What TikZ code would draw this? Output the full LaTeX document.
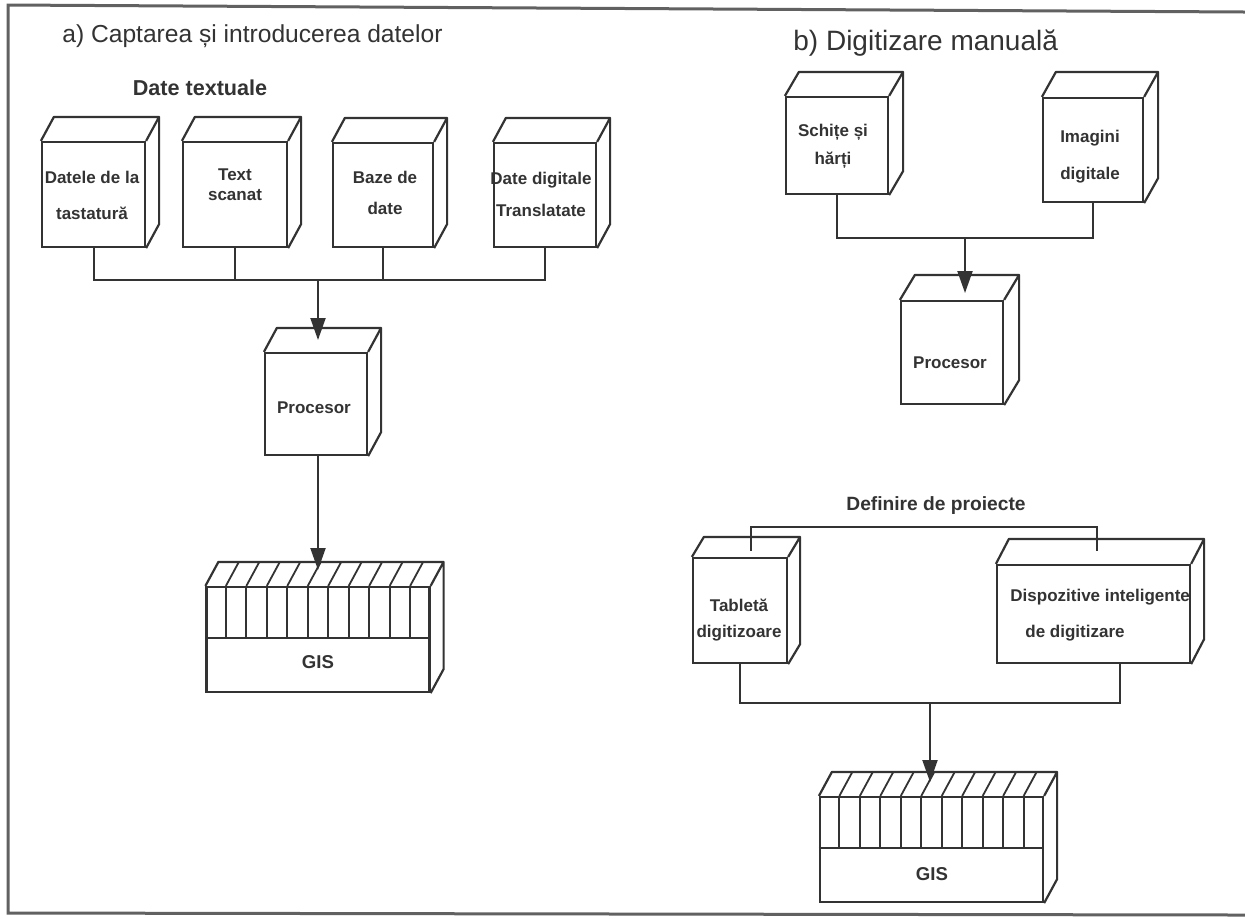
\documentclass[tikz,border=0pt]{standalone}
\usepackage{fontspec}
\setmainfont{Liberation Sans}
\usetikzlibrary{arrows.meta,calc}
\definecolor{ink}{gray}{0.2}
\definecolor{rulegray}{gray}{0.38}

\begin{document}
\begin{tikzpicture}[x=0.5pt,y=-0.5pt,
  % a box drawn in cavalier perspective: front face is the node, top and side are added
  cube/.style 2 args={draw=ink, line width=1.1pt, inner sep=0pt,
    append after command={\pgfextra{\draw[draw=ink, line width=1.1pt, line join=round]
      (\tikzlastnode.north west) -- ++(#1,-#2)
      -- ([shift={(#1,-#2)}]\tikzlastnode.north east)
      -- ([shift={(#1,-#2)}]\tikzlastnode.south east)
      -- (\tikzlastnode.south east)
      (\tikzlastnode.north east) -- ++(#1,-#2);}}},
  sz/.style 2 args={minimum width=#1*0.5pt, minimum height=#2*0.5pt},
  lbl/.style={font=\bfseries\fontsize{8.5}{#1}\selectfont, align=center, inner sep=0pt, text=ink},
  wire/.style={draw=ink, line width=1pt},
  slat/.style={draw=ink, line width=0.9pt},
  feed/.style={wire, -{Triangle[width=7.5pt,length=11pt]}, fill=ink},
]
\useasboundingbox (0,0) rectangle (1245,918);
\fill[white] (0,0) rectangle (1245,918);

% outer frame
\draw[rulegray, line width=1.5pt] (1245,12) -- (8,5) -- (8,913) -- (1245,915);

% headings
\node[anchor=base west, inner sep=0pt, text=ink, font=\fontsize{12.3}{15}\selectfont] (headA) at (62,42) {a) Captarea și introducerea datelor};
\node[anchor=base west, inner sep=0pt, text=ink, font=\fontsize{14}{17}\selectfont] (headB) at (793,50) {b) Digitizare manuală};
\node[anchor=base, inner sep=0pt, text=ink, font=\bfseries\fontsize{10.8}{13}\selectfont] (txtHead) at (200,95) {Date textuale};
\node[anchor=base, inner sep=0pt, text=ink, font=\bfseries\fontsize{9.6}{12}\selectfont] (defHead) at (936,510) {Definire de proiecte};

% ---- part a: textual data ----
\node[cube={13}{24}, sz={103}{105}] (kbd) at (93.5,194.5) {};
\node[cube={13}{24}, sz={104}{105}] (scan) at (235,194.5) {};
\node[cube={13}{24}, sz={100}{104}] (db) at (383,195) {};
\node[cube={13}{24}, sz={102}{104}] (dig) at (545,195) {};
\node[cube={13}{24}, sz={102}{102}] (procA) at (316,404) {};
\node[cube={13}{24}, sz={223}{105}] (gisA) at (318,639.5) {};

% ---- part b: manual digitising ----
\node[cube={14}{24}, sz={102}{97}] (sketch) at (837,145.5) {};
\node[cube={14}{25}, sz={100}{104}] (img) at (1093,150) {};
\node[cube={15}{25}, sz={102}{103}] (procB) at (952,352.5) {};
\node[cube={12}{20}, sz={94}{105}] (tab) at (740,610.5) {};
\node[cube={13}{25}, sz={193}{98}] (smart) at (1093.5,614) {};
\node[cube={13}{24}, sz={223}{105}] (gisB) at (931.5,849.5) {};

% GIS blocks: slatted upper part and a divider
\foreach \g in {gisA,gisB}{
  \draw[wire] ($(\g.north west)+(0,52)$) -- ($(\g.north east)+(0,52)$);
  \foreach \i in {1,...,10}{
    \draw[slat] ($(\g.north west)!\i/11!(\g.north east)$) -- ++(0,52);
    \draw[slat] ($(\g.north west)!\i/11!(\g.north east)$) -- ++(13,-24);
  }
}

% box labels
\node[lbl=18pt] (kbdT) at (92,195) {Datele de la\\tastatură};
\node[lbl=10pt] (scanT) at (235,185) {Text\\scanat};
\node[lbl=15.5pt] (dbT) at (385,192.5) {Baze de\\date};
\node[lbl=16pt] (digT) at (541,194) {Date digitale\\Translatate};
\node[lbl=10pt] (procAT) at (314,408) {Procesor};
\node[lbl=14pt] (sketchT) at (833,146) {Schițe și\\hărți};
\node[lbl=18.5pt] (imgT) at (1090,156.5) {Imagini\\digitale};
\node[lbl=10pt] (procBT) at (950,363) {Procesor};
\node[lbl=13pt] (tabT) at (739,620) {Tabletă\\digitizoare};
\node[lbl=18pt, align=left, anchor=west] (smartT) at (1010,615) {Dispozitive inteligente\\\hspace*{7.5pt}de digitizare};
\node[inner sep=0pt, text=ink, font=\bfseries\fontsize{9.3}{11}\selectfont] (gisAT) at (318,662) {GIS};
\node[inner sep=0pt, text=ink, font=\bfseries\fontsize{9.3}{11}\selectfont] (gisBT) at (932,874) {GIS};

% connectors, part a
\coordinate (busA) at (318,280);
\coordinate (tipA) at (318,340);
\coordinate (tipA2) at (318,570);
\draw[wire] (kbd.south) |- (busA) -| (dig.south);
\draw[wire] (scan.south) -- (scan.south |- busA);
\draw[wire] (db.south) -- (db.south |- busA);
\draw[feed] (busA) -- (tipA);
\draw[feed] (procA.south -| busA) -- (tipA2);

% connectors, part b
\coordinate (busB) at (965,238);
\coordinate (tipB) at (965,293);
\draw[wire] (sketch.south) |- (busB) -| (img.south);
\draw[feed] (busB) -- (tipB);

\coordinate (defBus) at (924,527);
\draw[wire] ([xshift=5.5pt,yshift=3pt]tab.north) |- (defBus) -| ([xshift=1.75pt,yshift=6.5pt]smart.north);

\coordinate (busC) at (930,703);
\coordinate (tipC) at (930,782);
\draw[wire] (tab.south) |- (busC) -| ([xshift=13.25pt]smart.south);
\draw[feed] (busC) -- (tipC);
\end{tikzpicture}
\end{document}
